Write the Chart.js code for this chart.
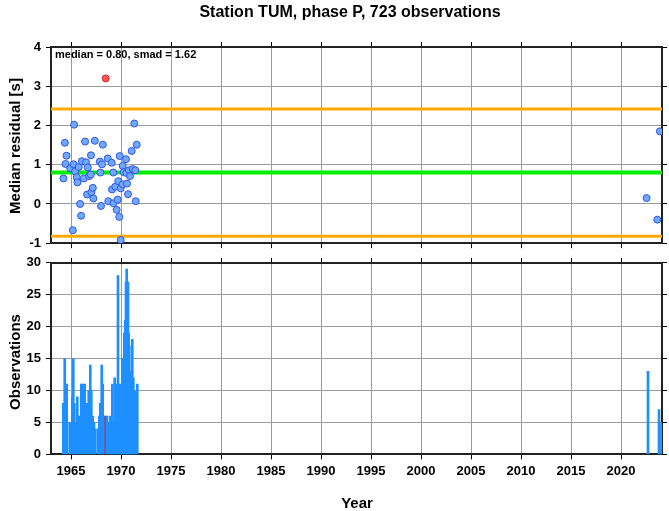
<!DOCTYPE html>
<html>
<head>
<meta charset="utf-8">
<script src="https://cdn.jsdelivr.net/npm/chart.js@4"></script>
<style>
  body { margin: 0; background: #fff; font-family: "Liberation Sans", Arial, sans-serif; }
  #wrap { position: relative; width: 669px; height: 511px; overflow: hidden; }
  .box { position: absolute; left: 0; width: 669px; }
  .txt { position: absolute; font-weight: bold; color: #000; white-space: nowrap; }
  .rot { transform: translate(-50%, -50%) rotate(-90deg); }
</style>
</head>
<body>
<div id="wrap">
  <div class="box" style="top:0;height:256px"><canvas id="resid"></canvas></div>
  <div class="box" style="top:250px;height:261px"><canvas id="obs"></canvas></div>
  <div class="txt" style="left:350px;top:3px;font-size:16px;transform:translateX(-50%)">Station TUM, phase P, 723 observations</div>
  <div class="txt" style="left:55px;top:48px;font-size:11px">median = 0.80, smad = 1.62</div>
  <div class="txt rot" style="left:14px;top:146px;font-size:15px">Median residual [s]</div>
  <div class="txt rot" style="left:14px;top:362px;font-size:15px">Observations</div>
  <div class="txt" style="left:357px;top:494px;font-size:15px;transform:translateX(-50%)">Year</div>
</div>
<script>
const median = 0.80;
const smad = 1.62;
const yearMin = 1963, yearMax = 2024.1;
const yearTicks = [1965, 1970, 1975, 1980, 1985, 1990, 1995, 2000, 2005, 2010, 2015, 2020];
const residTicks = [-1, 0, 1, 2, 3, 4];
const obsTicks = [0, 5, 10, 15, 20, 25, 30];

// monthly median residuals
const ptYears = [1964.24, 1964.39, 1964.45, 1964.55, 1964.92, 1965.18, 1965.25, 1965.31, 1965.41, 1965.58,
  1965.64, 1965.78, 1965.91, 1966.01, 1966.08, 1966.28, 1966.41, 1966.51, 1966.61, 1966.68,
  1966.81, 1966.98, 1967.0, 1967.04, 1967.18, 1967.24, 1967.38, 1967.88, 1967.94, 1968.0,
  1968.1, 1968.18, 1968.67, 1968.73, 1969.07, 1969.1, 1969.23, 1969.25, 1969.43, 1969.57,
  1969.67, 1969.73, 1969.83, 1969.87, 1969.97, 1969.97, 1970.17, 1970.17, 1970.27, 1970.5,
  1970.53, 1970.6, 1970.7, 1970.8, 1970.9, 1971.07, 1971.17, 1971.33, 1971.43, 1971.47,
  1971.57, 2022.56, 2023.63, 2023.89];
const ptValues = [0.65, 1.56, 1.02, 1.23, 0.91, -0.67, 1.01, 2.02, 0.83, 0.68,
  0.55, 0.94, 0.00, -0.30, 1.09, 0.65, 1.59, 1.06, 0.24, 0.93,
  0.71, 0.75, 1.24, 0.30, 0.41, 0.14, 1.61, 1.08, 0.80, -0.05,
  1.01, 1.51, 1.16, 0.07, 1.05, 0.37, 0.80, 0.02, 0.44, -0.15,
  0.11, 0.58, -0.33, 1.22, 0.40, -0.92, 0.97, 0.50, 0.81, 1.14,
  0.79, 0.52, 0.25, 0.86, 0.71, 1.35, 0.89, 2.05, 0.86, 0.07,
  1.51, 0.15, -0.40, 1.85];
const outYears = [1968.47];
const outValues = [3.2];

// observations per month
const barYears = [1964.23, 1964.37, 1964.47, 1964.57, 1964.87, 1965.13, 1965.23, 1965.33, 1965.43, 1965.63,
  1965.73, 1965.83, 1966.03, 1966.17, 1966.3, 1966.37, 1966.5, 1966.63, 1966.77, 1966.93,
  1967.03, 1967.17, 1967.3, 1967.43, 1967.7, 1967.83, 1967.93, 1968.07, 1968.17, 1968.23,
  1968.57, 1968.73, 1968.9, 1969.03, 1969.13, 1969.23, 1969.37, 1969.47, 1969.6, 1969.7,
  1969.83, 1969.93, 1970.03, 1970.13, 1970.23, 1970.33, 1970.43, 1970.5, 1970.57, 1970.63,
  1970.7, 1970.77, 1970.83, 1970.93, 1971.03, 1971.13, 1971.23, 1971.33, 1971.43, 1971.53,
  1971.63, 2022.7, 2023.8, 2024.05];
const barCounts = [8, 15, 11, 11, 5, 9, 15, 8, 5, 9,
  6, 6, 11, 11, 10, 11, 8, 8, 10, 14,
  10, 6, 5, 4, 4, 6, 8, 14, 11, 6,
  6, 5, 6, 5, 11, 5, 12, 11, 10, 28,
  10, 11, 10, 15, 12, 19, 21, 27, 29, 23,
  27, 19, 17, 12, 13, 18, 12, 10, 8, 10,
  11, 13, 7, 5];
const outBarYears = [1968.43];
const outBarCounts = [6];

Chart.defaults.font.family = '"Liberation Sans", Arial, sans-serif';
Chart.defaults.font.weight = 'bold';
Chart.defaults.color = '#000';
Chart.defaults.animation = false;

const gridStyle = { color: '#9a9a9a', lineWidth: 1, tickLength: 5, tickColor: '#000', tickWidth: 1, offset: false };
const frame = { display: true, color: '#222', width: 2 };
const fixTicks = list => s => { s.ticks = list.map(v => ({ value: v })); };

function xAxes(showLabels) {
  return {
    x: {
      type: 'linear', position: 'bottom', min: yearMin, max: yearMax, offset: false,
      afterBuildTicks: fixTicks(yearTicks),
      grid: gridStyle, border: frame,
      ticks: { display: showLabels, font: { size: 13 }, padding: 4, maxRotation: 0, callback: v => String(v) },
      afterFit: s => { if (!showLabels) s.height = 5; }
    },
    xTop: {
      type: 'linear', position: 'top', min: yearMin, max: yearMax, offset: false,
      afterBuildTicks: fixTicks(yearTicks),
      grid: { ...gridStyle, drawOnChartArea: false }, border: frame,
      ticks: { display: false },
      afterFit: s => { s.height = 5; }
    }
  };
}

function yAxes(min, max, list) {
  return {
    y: {
      position: 'left', min: min, max: max,
      afterBuildTicks: fixTicks(list),
      grid: gridStyle, border: frame,
      ticks: { font: { size: 13 }, padding: 5 },
      afterFit: s => { s.width = 51; }
    },
    yRight: {
      position: 'right', min: min, max: max,
      afterBuildTicks: fixTicks(list),
      grid: { ...gridStyle, drawOnChartArea: false }, border: frame,
      ticks: { display: false },
      afterFit: s => { s.width = 7; }
    }
  };
}

new Chart(document.getElementById('resid'), {
  type: 'scatter',
  data: {
    datasets: [
      {
        label: 'residual', data: ptYears.map((x, i) => ({ x: x, y: ptValues[i] })),
        backgroundColor: 'rgb(112,168,255)', borderColor: 'rgb(45,85,230)', borderWidth: 1,
        pointRadius: 3.5, order: 0
      },
      {
        label: 'outlier', data: outYears.map((x, i) => ({ x: x, y: outValues[i] })),
        backgroundColor: 'rgb(255,90,90)', borderColor: 'rgb(200,40,40)', borderWidth: 1,
        pointRadius: 3.5, order: 0
      },
      {
        type: 'line', label: 'median', data: [{ x: yearMin, y: median }, { x: yearMax, y: median }],
        borderColor: '#00ee00', borderWidth: 4, pointRadius: 0, order: 2
      },
      {
        type: 'line', label: 'upper', data: [{ x: yearMin, y: median + smad }, { x: yearMax, y: median + smad }],
        borderColor: '#ffaa00', borderWidth: 3, pointRadius: 0, order: 2
      },
      {
        type: 'line', label: 'lower', data: [{ x: yearMin, y: median - smad }, { x: yearMax, y: median - smad }],
        borderColor: '#ffaa00', borderWidth: 3, pointRadius: 0, order: 2
      }
    ]
  },
  options: {
    responsive: true, maintainAspectRatio: false,
    layout: { padding: { top: 42, bottom: 5, left: 0, right: 0 } },
    plugins: { legend: { display: false }, tooltip: { enabled: false } },
    scales: { ...xAxes(false), ...yAxes(-1, 4, residTicks) }
  }
});

new Chart(document.getElementById('obs'), {
  type: 'bar',
  data: {
    datasets: [
      {
        label: 'obs', data: barYears.map((x, i) => ({ x: x, y: barCounts[i] })),
        backgroundColor: '#1e8fff', barThickness: 2, grouped: false
      },
      {
        label: 'outlier obs', data: outBarYears.map((x, i) => ({ x: x, y: outBarCounts[i] })),
        backgroundColor: '#ff0000', barThickness: 2, grouped: false
      }
    ]
  },
  options: {
    responsive: true, maintainAspectRatio: false,
    layout: { padding: { top: 7, bottom: 28, left: 0, right: 0 } },
    plugins: { legend: { display: false }, tooltip: { enabled: false } },
    scales: { ...xAxes(true), ...yAxes(0, 30, obsTicks) }
  }
});
</script>
</body>
</html>
